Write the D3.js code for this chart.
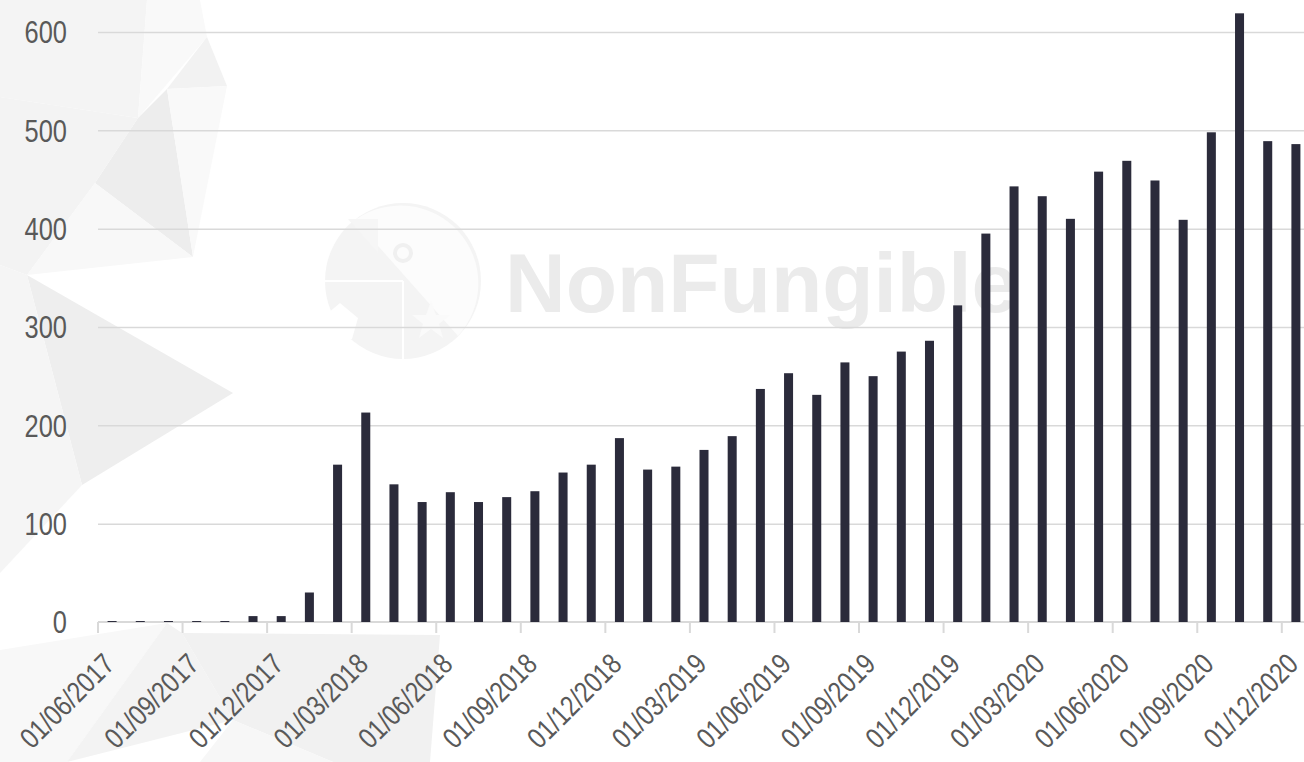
<!DOCTYPE html>
<html>
<head>
<meta charset="utf-8">
<script src="https://cdn.jsdelivr.net/npm/d3@7"></script>
<style>
  body { margin: 0; background: #fff; overflow: hidden; }
  svg { display: block; }
  .lbl { font-family: "Liberation Sans", Arial, sans-serif; fill: #595959; }
</style>
</head>
<body>
<div id="chart"></div>
<script>
// one category per month (first day of month)
const months = [
  "01/06/2017","01/07/2017","01/08/2017","01/09/2017","01/10/2017","01/11/2017","01/12/2017",
  "01/01/2018","01/02/2018","01/03/2018","01/04/2018","01/05/2018","01/06/2018",
  "01/07/2018","01/08/2018","01/09/2018","01/10/2018","01/11/2018","01/12/2018",
  "01/01/2019","01/02/2019","01/03/2019","01/04/2019","01/05/2019","01/06/2019",
  "01/07/2019","01/08/2019","01/09/2019","01/10/2019","01/11/2019","01/12/2019",
  "01/01/2020","01/02/2020","01/03/2020","01/04/2020","01/05/2020","01/06/2020",
  "01/07/2020","01/08/2020","01/09/2020","01/10/2020","01/11/2020","01/12/2020"
];
const counts = [
  1, 1, 1, 1, 1, 6, 6,
  30, 160, 213, 140, 122, 132,
  122, 127, 133, 152, 160, 187,
  155, 158, 175, 189, 237, 253,
  231, 264, 250, 275, 286, 322,
  395, 443, 433, 410, 458, 469,
  449, 409, 498, 619, 489, 486
];
const yTicks = [0, 100, 200, 300, 400, 500, 600];
const xTickLabels = [
  "01/06/2017","01/09/2017","01/12/2017","01/03/2018","01/06/2018","01/09/2018","01/12/2018",
  "01/03/2019","01/06/2019","01/09/2019","01/12/2019","01/03/2020","01/06/2020","01/09/2020","01/12/2020"
];

const W = 1304, H = 762;
const left = 98, right = 1310, zeroY = 622, topY = 32;
const narrow = 0.82; // squeeze Liberation Sans to look like a narrow face

const svg = d3.select("#chart").append("svg")
    .attr("width", W)
    .attr("height", H);

// --- background decoration (low-poly shapes + watermark) ---
const deco = svg.append("g");
const polys = [
  [[0,0],[147,0],[138,118],[0,97], "#f4f4f4"],
  [[147,0],[200,0],[207,37],[138,118], "#f9f9f9"],
  [[207,37],[227,86],[167,89], "#f2f2f2"],
  [[138,118],[167,89],[193,257],[95,183], "#ededed"],
  [[167,89],[227,86],[193,257], "#f9f9f9"],
  [[0,97],[138,118],[95,183],[27,275],[0,265], "#f3f3f3"],
  [[95,183],[193,257],[27,275], "#f8f8f8"],
  [[27,275],[233,393],[82,485], "#eeeeee"],
  [[0,265],[27,275],[82,485],[0,573], "#f5f5f5"],
  [[0,650],[167,623],[67,762],[0,762], "#f8f8f8"],
  [[167,623],[182,633],[233,720],[67,762], "#f3f3f3"],
  [[182,633],[440,635],[430,762],[333,762],[233,720], "#f1f1f1"],
  [[233,720],[333,762],[200,762], "#f7f7f7"]
];
polys.forEach(p => {
  deco.append("polygon")
    .attr("points", p.slice(0, -1).map(d => d.join(",")).join(" "))
    .attr("fill", p[p.length - 1]);
});

// faint logo
const logo = deco.append("g").attr("transform", "translate(403,281)");
logo.append("circle").attr("r", 78).attr("fill", "#f4f4f4");
logo.append("path").attr("d", "M-48,-61 A78,78 0 0,1 55,55 Z").attr("fill", "#fcfcfc");
logo.append("path").attr("d", "M-55,-62 L-25,-62 L-25,-28 Z").attr("fill", "#f6f6f6");
logo.append("line").attr("x1", -78).attr("x2", 0).attr("y1", 0).attr("y2", 0).attr("stroke", "#fff").attr("stroke-width", 2);
logo.append("line").attr("x1", 0).attr("x2", 0).attr("y1", 0).attr("y2", 78).attr("stroke", "#fff").attr("stroke-width", 2);
logo.append("circle").attr("cx", 0).attr("cy", -28).attr("r", 8).attr("fill", "none").attr("stroke", "#f0f0f0").attr("stroke-width", 4);
logo.append("path").attr("d", "M-63,22 L-45,37 L-51,58 L-74,58 L-81,37 Z").attr("fill", "#fff");
logo.append("path").attr("d", "M28,20 L33,34 L47,34 L36,43 L40,57 L28,48 L16,57 L20,43 L9,34 L23,34 Z").attr("fill", "#fafafa");

deco.append("text")
    .attr("x", 505)
    .attr("y", 312)
    .attr("font-family", "Liberation Sans, Arial, sans-serif")
    .attr("font-weight", "bold")
    .attr("font-size", 84)
    .attr("fill", "#ebebeb")
    .text("NonFungible");

// --- scales ---
const x = d3.scaleBand()
    .domain(months)
    .range([left, right])
    .paddingInner(0.68)
    .paddingOuter(0.34);

const y = d3.scaleLinear()
    .domain([0, 600])
    .range([zeroY, topY]);

// gridlines
const yAxis = svg.append("g")
    .attr("transform", "translate(" + left + ",0)")
    .call(d3.axisLeft(y).tickValues(yTicks.slice(1)).tickSize(-(W - left)).tickFormat(""));
yAxis.select(".domain").remove();
yAxis.selectAll(".tick text").remove();
yAxis.selectAll(".tick line")
    .attr("stroke", "#d9d9d9")
    .attr("stroke-width", 1.5);

// y labels
svg.append("g")
    .selectAll("text")
    .data(yTicks)
    .join("text")
    .attr("class", "lbl")
    .attr("text-anchor", "end")
    .attr("dy", "0.36em")
    .attr("transform", d => "translate(67," + y(d) + ") scale(" + narrow + ",1)")
    .style("font-size", "31px")
    .text(d => d);

// x axis line and ticks
const step = x.step();
const xAxis = svg.append("g")
    .attr("transform", "translate(0," + zeroY + ")");
xAxis.append("line")
    .attr("x1", left).attr("x2", W)
    .attr("stroke", "#d9d9d9")
    .attr("stroke-width", 2);
xAxis.selectAll(".xt")
    .data(xTickLabels)
    .join("line")
    .attr("class", "xt")
    .attr("x1", d => x(d) - step * 0.34)
    .attr("x2", d => x(d) - step * 0.34)
    .attr("y1", 0).attr("y2", 11)
    .attr("stroke", "#d9d9d9")
    .attr("stroke-width", 2);

// bars
svg.append("g")
    .selectAll("rect")
    .data(counts)
    .join("rect")
    .attr("x", (d, i) => x(months[i]))
    .attr("width", x.bandwidth())
    .attr("y", d => y(d))
    .attr("height", d => y(0) - y(d))
    .attr("fill", "#2b2b3b");

// x labels
xAxis.selectAll(".xl")
    .data(xTickLabels)
    .join("text")
    .attr("class", "lbl xl")
    .attr("text-anchor", "end")
    .attr("transform", d => "translate(" + (x(d) + x.bandwidth() / 2 + 4) + ",44) rotate(-45) scale(" + narrow + ",1)")
    .style("font-size", "29px")
    .text(d => d);
</script>
</body>
</html>
